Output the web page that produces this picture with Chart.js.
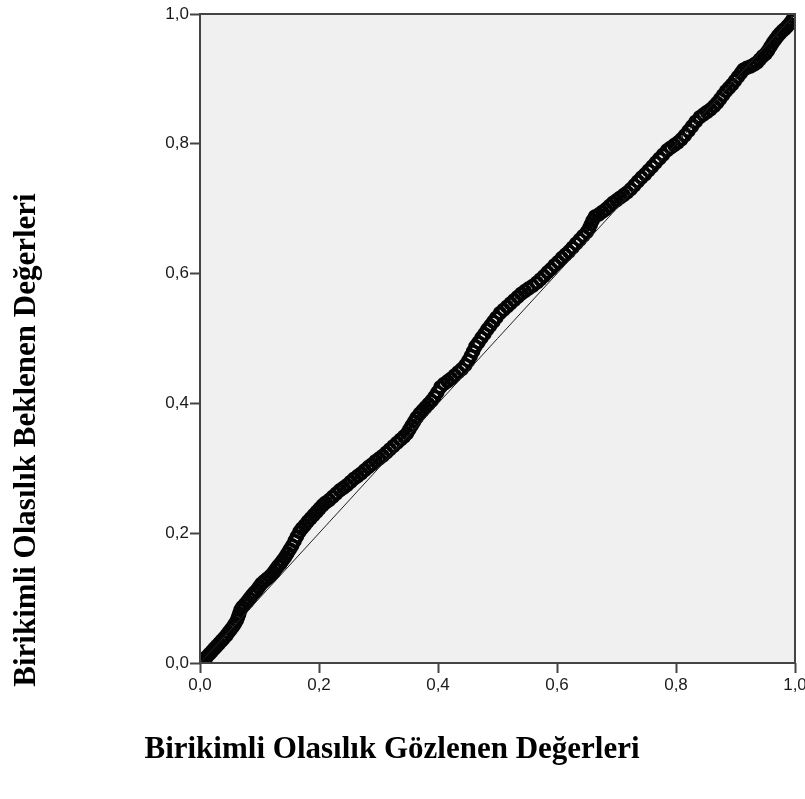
<!DOCTYPE html>
<html>
<head>
<meta charset="utf-8">
<script src="https://cdn.jsdelivr.net/npm/chart.js@4.4.1/dist/chart.umd.min.js"></script>
<style>
  html, body { margin: 0; padding: 0; background: #ffffff; }
  canvas { display: block; }
</style>
</head>
<body>
<canvas id="ppChart" width="805" height="799"></canvas>
<script>
const observed = [
  0.000, 0.004, 0.008, 0.012, 0.016, 0.020, 0.024, 0.028, 0.032, 0.036,
  0.040, 0.044, 0.048, 0.052, 0.056, 0.059, 0.062, 0.064, 0.066, 0.068,
  0.071, 0.075, 0.079, 0.083, 0.087, 0.091, 0.095, 0.099, 0.103, 0.108,
  0.113, 0.118, 0.123, 0.127, 0.131, 0.135, 0.139, 0.143, 0.147, 0.151,
  0.155, 0.159, 0.163, 0.167, 0.171, 0.176, 0.181, 0.186, 0.191, 0.196,
  0.201, 0.206, 0.211, 0.217, 0.223, 0.229, 0.235, 0.241, 0.247, 0.253,
  0.259, 0.265, 0.271, 0.277, 0.283, 0.289, 0.295, 0.301, 0.307, 0.313,
  0.319, 0.325, 0.331, 0.337, 0.343, 0.348, 0.352, 0.356, 0.360, 0.364,
  0.369, 0.374, 0.379, 0.384, 0.389, 0.394, 0.399, 0.404, 0.410, 0.416,
  0.422, 0.428, 0.434, 0.440, 0.446, 0.451, 0.455, 0.459, 0.463, 0.468,
  0.473, 0.478, 0.483, 0.488, 0.493, 0.498, 0.504, 0.510, 0.516, 0.522,
  0.528, 0.534, 0.540, 0.546, 0.552, 0.559, 0.566, 0.572, 0.578, 0.584,
  0.590, 0.596, 0.602, 0.608, 0.614, 0.620, 0.626, 0.632, 0.638, 0.644,
  0.650, 0.654, 0.657, 0.660, 0.664, 0.670, 0.676, 0.682, 0.688, 0.694,
  0.700, 0.706, 0.712, 0.718, 0.724, 0.730, 0.736, 0.742, 0.748, 0.754,
  0.760, 0.766, 0.772, 0.778, 0.785, 0.791, 0.797, 0.803, 0.809, 0.815,
  0.821, 0.827, 0.833, 0.840, 0.846, 0.852, 0.858, 0.864, 0.869, 0.874,
  0.879, 0.884, 0.889, 0.894, 0.899, 0.904, 0.909, 0.913, 0.919, 0.925,
  0.931, 0.936, 0.941, 0.946, 0.951, 0.955, 0.959, 0.963, 0.967, 0.971,
  0.975, 0.979, 0.983, 0.987, 0.991, 0.995, 0.998
];
const expected = [
  0.000, 0.004, 0.007, 0.010, 0.014, 0.018, 0.022, 0.026, 0.030, 0.034,
  0.038, 0.042, 0.047, 0.052, 0.057, 0.061, 0.066, 0.071, 0.076, 0.082,
  0.086, 0.090, 0.094, 0.099, 0.104, 0.108, 0.112, 0.117, 0.122, 0.126,
  0.130, 0.134, 0.139, 0.144, 0.149, 0.153, 0.158, 0.163, 0.169, 0.175,
  0.181, 0.188, 0.195, 0.202, 0.207, 0.212, 0.218, 0.223, 0.228, 0.233,
  0.238, 0.243, 0.247, 0.251, 0.256, 0.261, 0.266, 0.270, 0.274, 0.279,
  0.284, 0.288, 0.292, 0.297, 0.302, 0.306, 0.311, 0.315, 0.319, 0.324,
  0.329, 0.334, 0.339, 0.344, 0.349, 0.354, 0.360, 0.366, 0.372, 0.378,
  0.384, 0.389, 0.394, 0.399, 0.404, 0.410, 0.417, 0.425, 0.430, 0.434,
  0.438, 0.443, 0.448, 0.453, 0.459, 0.466, 0.473, 0.480, 0.488, 0.494,
  0.501, 0.507, 0.514, 0.520, 0.526, 0.532, 0.539, 0.544, 0.549, 0.554,
  0.559, 0.564, 0.569, 0.573, 0.577, 0.581, 0.586, 0.591, 0.596, 0.602,
  0.607, 0.613, 0.618, 0.624, 0.629, 0.634, 0.640, 0.646, 0.652, 0.658,
  0.664, 0.670, 0.676, 0.682, 0.688, 0.691, 0.695, 0.699, 0.704, 0.709,
  0.713, 0.717, 0.721, 0.725, 0.730, 0.736, 0.742, 0.748, 0.753, 0.759,
  0.765, 0.771, 0.777, 0.783, 0.790, 0.794, 0.798, 0.802, 0.807, 0.813,
  0.820, 0.827, 0.834, 0.841, 0.845, 0.849, 0.853, 0.858, 0.863, 0.869,
  0.875, 0.881, 0.886, 0.891, 0.897, 0.903, 0.909, 0.914, 0.917, 0.919,
  0.922, 0.925, 0.930, 0.935, 0.939, 0.944, 0.950, 0.956, 0.961, 0.966,
  0.970, 0.974, 0.977, 0.981, 0.985, 0.990, 0.995
];

// diagonal reference line
const refX = [0, 1];
const refY = [0, 1];

const tickLabels = ['0,0', '0,2', '0,4', '0,6', '0,8', '1,0'];
const xTitle = 'Birikimli Olasılık Gözlenen Değerleri';
const yTitle = 'Birikimli Olasılık Beklenen Değerleri';

const points = observed.map((x, i) => ({ x: x, y: expected[i] }));
const refLine = refX.map((x, i) => ({ x: x, y: refY[i] }));

function tickText(value) {
  const idx = Math.round(value / 0.2);
  return tickLabels[idx];
}

const plotFrame = {
  id: 'plotFrame',
  beforeDraw(chart) {
    const ctx = chart.ctx;
    const a = chart.chartArea;
    ctx.save();
    ctx.fillStyle = '#ffffff';
    ctx.fillRect(0, 0, chart.width, chart.height);
    ctx.fillStyle = '#f0f0f0';
    ctx.fillRect(a.left, a.top, a.right - a.left, a.bottom - a.top);
    ctx.restore();
  },
  afterDraw(chart) {
    const ctx = chart.ctx;
    const a = chart.chartArea;
    ctx.save();
    ctx.strokeStyle = '#444444';
    ctx.lineWidth = 2;
    ctx.strokeRect(a.left, a.top, a.right - a.left, a.bottom - a.top);

    // axis titles
    ctx.fillStyle = '#000000';
    ctx.font = 'bold 31px "Liberation Serif", "Times New Roman", serif';
    ctx.textAlign = 'center';
    ctx.textBaseline = 'middle';
    ctx.fillText(xTitle, 392, 750);
    ctx.translate(27, 440);
    ctx.rotate(-Math.PI / 2);
    ctx.fillText(yTitle, 0, 0);
    ctx.restore();
  }
};

new Chart(document.getElementById('ppChart'), {
  type: 'scatter',
  data: {
    datasets: [
      {
        label: 'refLine',
        type: 'line',
        data: refLine,
        borderColor: '#222222',
        borderWidth: 1,
        pointRadius: 0,
        fill: false
      },
      {
        label: 'pp',
        data: points,
        pointStyle: 'circle',
        pointRadius: 5.5,
        borderWidth: 3.5,
        borderColor: '#050505',
        backgroundColor: 'rgba(0,0,0,0)'
      }
    ]
  },
  options: {
    responsive: false,
    animation: false,
    layout: { padding: { left: 0, top: 14, right: 10, bottom: 0 } },
    plugins: {
      legend: { display: false },
      tooltip: { enabled: false }
    },
    scales: {
      x: {
        type: 'linear',
        min: 0,
        max: 1,
        afterFit(scale) {
          scale.height = 136;
          scale.paddingLeft = 0;
          scale.paddingRight = 0;
        },
        border: { display: false },
        grid: {
          drawOnChartArea: false,
          drawTicks: true,
          tickLength: 10,
          tickWidth: 2,
          tickColor: '#444444'
        },
        ticks: {
          stepSize: 0.2,
          padding: 2,
          color: '#1a1a1a',
          font: { family: '"Liberation Sans", Arial, sans-serif', size: 17 },
          callback: tickText,
          maxRotation: 0
        }
      },
      y: {
        type: 'linear',
        min: 0,
        max: 1,
        afterFit(scale) {
          scale.width = 200;
          scale.paddingTop = 0;
          scale.paddingBottom = 0;
        },
        border: { display: false },
        grid: {
          drawOnChartArea: false,
          drawTicks: true,
          tickLength: 10,
          tickWidth: 2,
          tickColor: '#444444'
        },
        ticks: {
          stepSize: 0.2,
          padding: 1,
          color: '#1a1a1a',
          font: { family: '"Liberation Sans", Arial, sans-serif', size: 17 },
          callback: tickText
        }
      }
    }
  },
  plugins: [plotFrame]
});
</script>
</body>
</html>
